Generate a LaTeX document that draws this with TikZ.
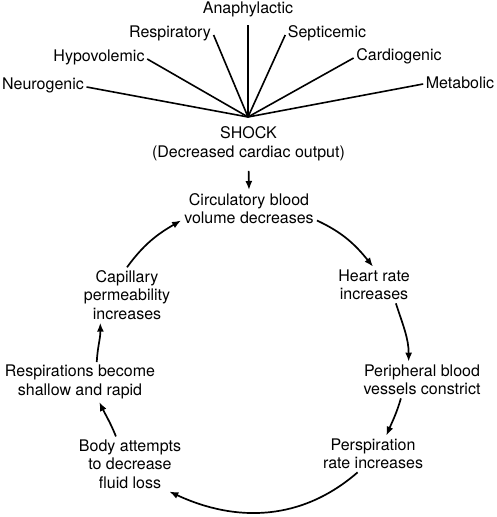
\documentclass[tikz,border=0pt]{standalone}
\usepackage{fontspec}
\setmainfont{TeX Gyre Heros}
\usetikzlibrary{arrows.meta}
\begin{document}
\begin{tikzpicture}[x=1pt,y=1pt,
  lbl/.style={font=\fontsize{16}{18.4}\selectfont, inner sep=2.5pt, text height=11.7pt, text depth=3.4pt},
  stage/.style={font=\fontsize{16}{18.4}\selectfont, align=center, inner sep=3pt},
  ray/.style={line width=1.6pt},
  arr/.style={line width=1.7pt, -{Latex[length=9pt,width=7pt]}}]
\useasboundingbox (0,0) rectangle (496,517);
% causes
\node[lbl] (ana) at (248,508) {Anaphylactic};
\node[lbl] (resp) at (170,484) {Respiratory};
\node[lbl] (sept) at (327,484) {Septicemic};
\node[lbl] (hypo) at (99,460) {Hypovolemic};
\node[lbl] (cardio) at (399,461) {Cardiogenic};
\node[lbl] (neuro) at (43,432) {Neurogenic};
\node[lbl] (meta) at (460,433) {Metabolic};
\coordinate (hub) at (248,400);
\draw[ray, shorten <=6pt] (ana.south) -- (hub);
\draw[ray] ([yshift=-2pt]resp.east) -- (hub);
\draw[ray] ([yshift=-2pt]sept.west) -- (hub);
\draw[ray] ([yshift=-2pt]hypo.east) -- (hub);
\draw[ray] ([yshift=-2pt]cardio.west) -- (hub);
\draw[ray] ([yshift=-2pt]neuro.east) -- (hub);
\draw[ray] (meta.west) -- (hub);
% shock
\node[stage] (shock) at (248.5,373.2) {SHOCK\\(Decreased cardiac output)};
% cycle
\node[stage] (circ) at (249,308.5) {Circulatory blood\\volume decreases};
\node[stage] (heart) at (374,232) {Heart rate\\increases};
\node[stage] (periph) at (422,137) {Peripheral blood\\vessels constrict};
\node[stage] (persp) at (373,63) {Perspiration\\rate increases};
\node[stage] (body) at (130,53) {Body attempts\\to decrease\\fluid loss};
\node[stage] (respr) at (80,135) {Respirations become\\shallow and rapid};
\node[stage] (cap) at (127,222) {Capillary\\permeability\\increases};
\draw[arr, shorten <=7pt] (shock.south) -- (circ.north);
\draw[arr] (circ.-10) to[out=-25,in=129] (heart.93);
\draw[arr] (heart.-40) to[out=-72,in=90] (periph.126);
\draw[arr] (periph.221) to[out=-106,in=67] (persp.54);
\draw[arr] (persp.230) to[out=221,in=-25] (body.-35);
\draw[arr] (body.117) to[out=112,in=-64] (respr.-46);
\draw[arr] (respr.50) to[out=87,in=-89] (cap.226);
\draw[arr] (cap.90) to[out=54,in=210] (circ.190);
\end{tikzpicture}
\end{document}
